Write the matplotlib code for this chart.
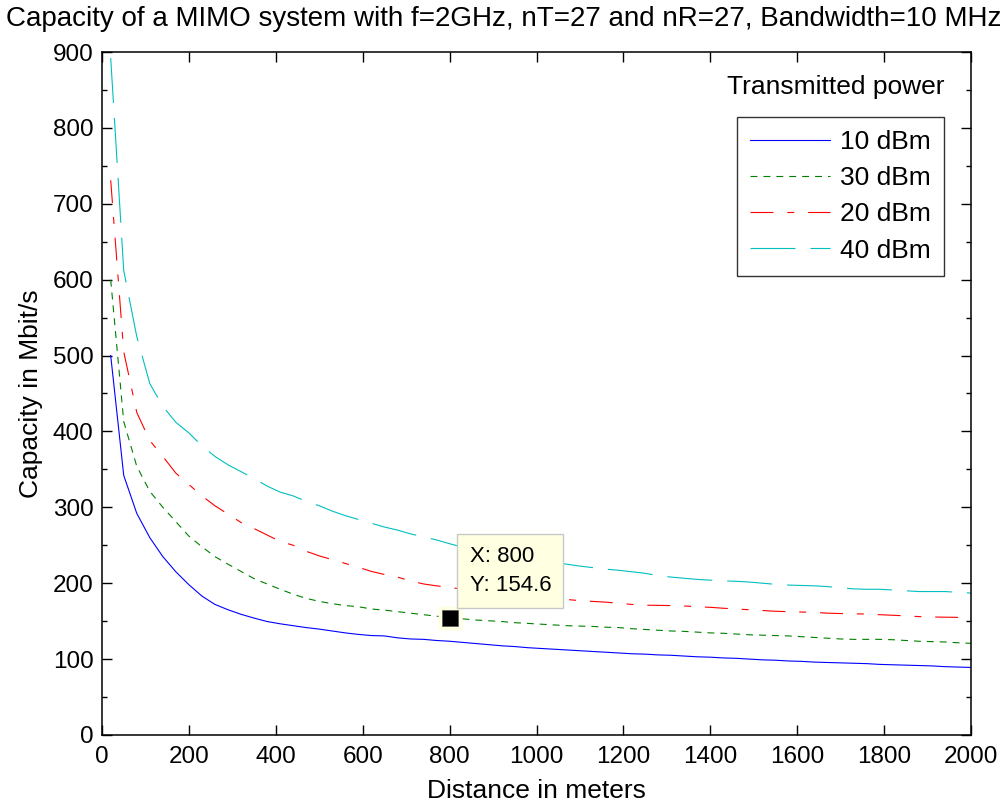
import matplotlib
matplotlib.use("Agg")
import matplotlib.pyplot as plt
from matplotlib.ticker import MultipleLocator

plt.rcParams['font.family'] = ['Liberation Sans', 'DejaVu Sans']
plt.rcParams['lines.scale_dashes'] = False

# Distance samples in meters
distance = list(range(20, 2001, 30))

# Capacity in Mbit/s for each transmitted power
cap_10dBm = [500, 342, 292, 260, 235, 215, 198, 183, 172, 165,
             159, 154, 149.5, 146.5, 144, 141.5, 139.5, 137, 134.5, 132.5,
             131, 130.5, 128, 126.5, 126, 124.5, 123.5, 122, 120.5, 119,
             117.5, 116.5, 115, 114, 113, 112, 111, 110, 109, 108,
             107, 106.5, 105.5, 105, 104, 103, 102.5, 101.5, 101, 100,
             99, 98.5, 97.5, 97, 96, 95.5, 95, 94.5, 94, 93,
             92.5, 92, 91.5, 91, 90, 89.5, 89]
cap_30dBm = [600, 413, 354, 321, 300, 281, 262, 248, 235, 225,
             215.5, 206, 199, 192, 185.5, 180, 176, 173, 170.5, 169,
             166, 164.5, 162.5, 160.5, 158.5, 156.5, 154.6, 153, 151.5, 150.5,
             149.5, 148, 147, 146, 145, 144, 143.5, 143, 142, 141.5,
             140, 139, 138, 137, 136.5, 135.5, 134.5, 134, 133, 132,
             131.5, 131, 130.5, 129.5, 128.5, 127.5, 126.5, 126, 126, 126,
             125.5, 124.5, 123.5, 123, 122.5, 121.5, 120.8]
cap_20dBm = [731, 505, 425, 388, 367, 345, 330, 315, 302, 291,
             280, 272, 263.5, 255, 250, 242, 236, 231, 226, 221,
             215.5, 211.5, 208, 203, 199, 196.5, 194.5, 192, 189, 187,
             185.5, 184, 182.5, 181, 180, 178.5, 177, 176, 175, 173.5,
             172, 171, 170.8, 170.5, 170, 169, 168.2, 167, 166, 165,
             164, 163, 162.5, 162, 161.5, 160.5, 160, 159.7, 159.3, 158.5,
             157.7, 157, 156, 155.5, 155.2, 155, 155]
cap_40dBm = [892, 612, 525, 463, 433, 412, 398, 381, 367, 356,
             347, 338, 328, 320, 315, 308, 302, 295, 289, 284,
             279, 274, 270, 265, 261, 257, 252, 247.5, 244, 240.5,
             237.5, 235, 232, 229.5, 227.5, 225, 222.5, 220.5, 218.5, 217,
             215, 213, 210, 208, 206.5, 205, 204, 203, 202.5, 201.5,
             200, 198.5, 197.5, 197, 196.5, 195.5, 194, 192.5, 192, 192,
             191, 190, 189, 189, 189, 188, 187]

labels = ['10 dBm', '30 dBm', '20 dBm', '40 dBm']

# Data cursor
tip_x = 800
tip_y = 154.6

fig = plt.figure(figsize=(10.08, 8.05), dpi=100)
ax = fig.add_axes([0.1012, 0.0870, 0.8621, 0.8484])

lw = 0.8
ax.plot(distance, cap_10dBm, color=(0, 0, 1), lw=lw, ls='-', label=labels[0])
ax.plot(distance, cap_30dBm, color=(0, 0.5, 0), lw=lw, dashes=(5, 4.3), label=labels[1])
ax.plot(distance, cap_20dBm, color=(1, 0, 0), lw=lw, dashes=(16.5, 10, 5, 10), label=labels[2])
ax.plot(distance, cap_40dBm, color=(0, 0.75, 0.75), lw=lw, dashes=(32.4, 10.8), label=labels[3])

ax.set_xlim(0, 2000)
ax.set_ylim(0, 900)
ax.xaxis.set_major_locator(MultipleLocator(200))
ax.yaxis.set_major_locator(MultipleLocator(100))
ax.yaxis.set_minor_locator(MultipleLocator(50))
ax.tick_params(which='both', direction='in', top=True, right=True,
               labelsize=17.5, width=1, color='black')
ax.tick_params(which='major', length=7)
ax.tick_params(which='minor', length=3.5)
ax.tick_params(axis='x', which='major', pad=8)
ax.tick_params(axis='y', which='major', pad=6)
for sp in ax.spines.values():
    sp.set_linewidth(1.1)

ax.set_xlabel('Distance in meters', fontsize=19, labelpad=8)
ax.set_ylabel('Capacity in Mbit/s', fontsize=19, labelpad=7)
fig.text(0.5, 0.977, 'Capacity of a MIMO system with f=2GHz, nT=27 and nR=27, Bandwidth=10 MHz',
         ha='center', va='center', fontsize=20)

leg = ax.legend(loc='upper left', bbox_to_anchor=(0.7307, 0.9048), fontsize=19,
                frameon=True, fancybox=False, edgecolor='black', handlelength=3.03,
                handletextpad=0.38, labelspacing=0.46, borderpad=0.5, borderaxespad=0)
leg.get_frame().set_linewidth(1.0)
ax.text(0.970, 0.9488, 'Transmitted power', transform=ax.transAxes,
        ha='right', va='center', fontsize=19)

# Data cursor marker and label
ax.plot([tip_x], [tip_y], marker='s', ms=17.3, color='#FFFFE1', mec='none', zorder=5)
ax.plot([tip_x], [tip_y], marker='s', ms=11.5, color='black', mec='#555555', mew=0.5, zorder=6)
ax.annotate(f'X: {tip_x}\nY: {tip_y}', xy=(tip_x, tip_y), xytext=(20, 22),
            textcoords='offset pixels', ha='left', va='bottom', fontsize=16,
            linespacing=1.45, zorder=7,
            bbox=dict(boxstyle='square,pad=0.55', fc='#FFFFE1', ec='#C8C8C8', lw=1))

fig.savefig('out.png', dpi=100)
